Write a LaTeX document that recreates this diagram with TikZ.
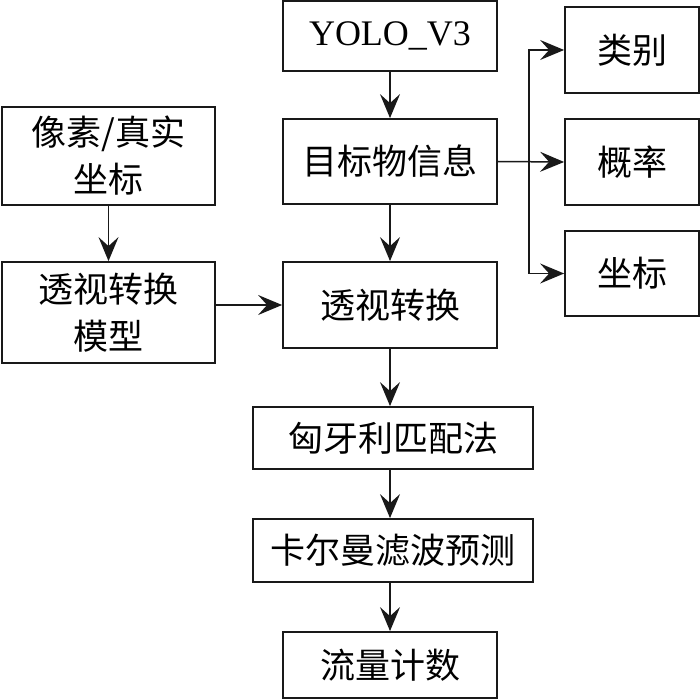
\documentclass[tikz,border=0pt]{standalone}
\usepackage{fontspec}
\setmainfont{Liberation Serif}
\newfontfamily\cjk{Noto Sans CJK SC}
\usetikzlibrary{arrows.meta}
\begin{document}
\begin{tikzpicture}[x=1pt,y=-1pt,
  box/.style={draw=black!90,line width=1.8pt,inner sep=0pt,align=center,
    font=\cjk\fontsize{35}{47}\selectfont},
  arr/.style={line width=1.5pt,draw=black!90,-{Stealth[length=24pt,width=20pt,inset=9pt]}}]
\useasboundingbox (0,0) rectangle (700,700);
\fill[white] (0,0) rectangle (700,700);
\node[box,minimum width=214pt,minimum height=70pt,font=\fontsize{36}{40}\selectfont] (yolo) at (390,36) {YOLO\_V3};
\node[box,minimum width=214pt,minimum height=85pt] (info) at (390,161.5) {目标物信息};
\node[box,minimum width=214pt,minimum height=86pt] (pt) at (390,305) {透视转换};
\node[box,minimum width=280pt,minimum height=62pt] (hung) at (393,438) {匈牙利匹配法};
\node[box,minimum width=280pt,minimum height=63pt] (kal) at (393,550.5) {卡尔曼滤波预测};
\node[box,minimum width=214pt,minimum height=66pt] (flow) at (390,665) {流量计数};
\node[box,minimum width=213pt,minimum height=98pt] (pix) at (108.5,156) {像素/真实\\坐标};
\node[box,minimum width=213pt,minimum height=101pt] (model) at (108.5,312.5) {透视转换\\模型};
\node[box,minimum width=134pt,minimum height=86pt] (cls) at (632,50) {类别};
\node[box,minimum width=134pt,minimum height=86pt] (prob) at (632,162) {概率};
\node[box,minimum width=134pt,minimum height=85pt] (coord) at (632,273.5) {坐标};
\coordinate (br) at (529,0);
\draw[arr] (yolo.south) -- (info.north);
\draw[arr] (info.south) -- (pt.north);
\draw[arr] (pt.south) -- (pt.south |- hung.north);
\draw[arr] (pt.south |- hung.south) -- (pt.south |- kal.north);
\draw[arr] (pt.south |- kal.south) -- (flow.north);
\draw[arr] (pix.south) -- (pix.south |- model.north);
\draw[arr] (pt.west -| model.east) -- (pt.west);
\draw[arr] (info.east) -- (prob.west);
\draw[arr] (br |- info.east) |- (cls.west);
\draw[arr] (br |- info.east) |- (coord.west);
\end{tikzpicture}
\end{document}
